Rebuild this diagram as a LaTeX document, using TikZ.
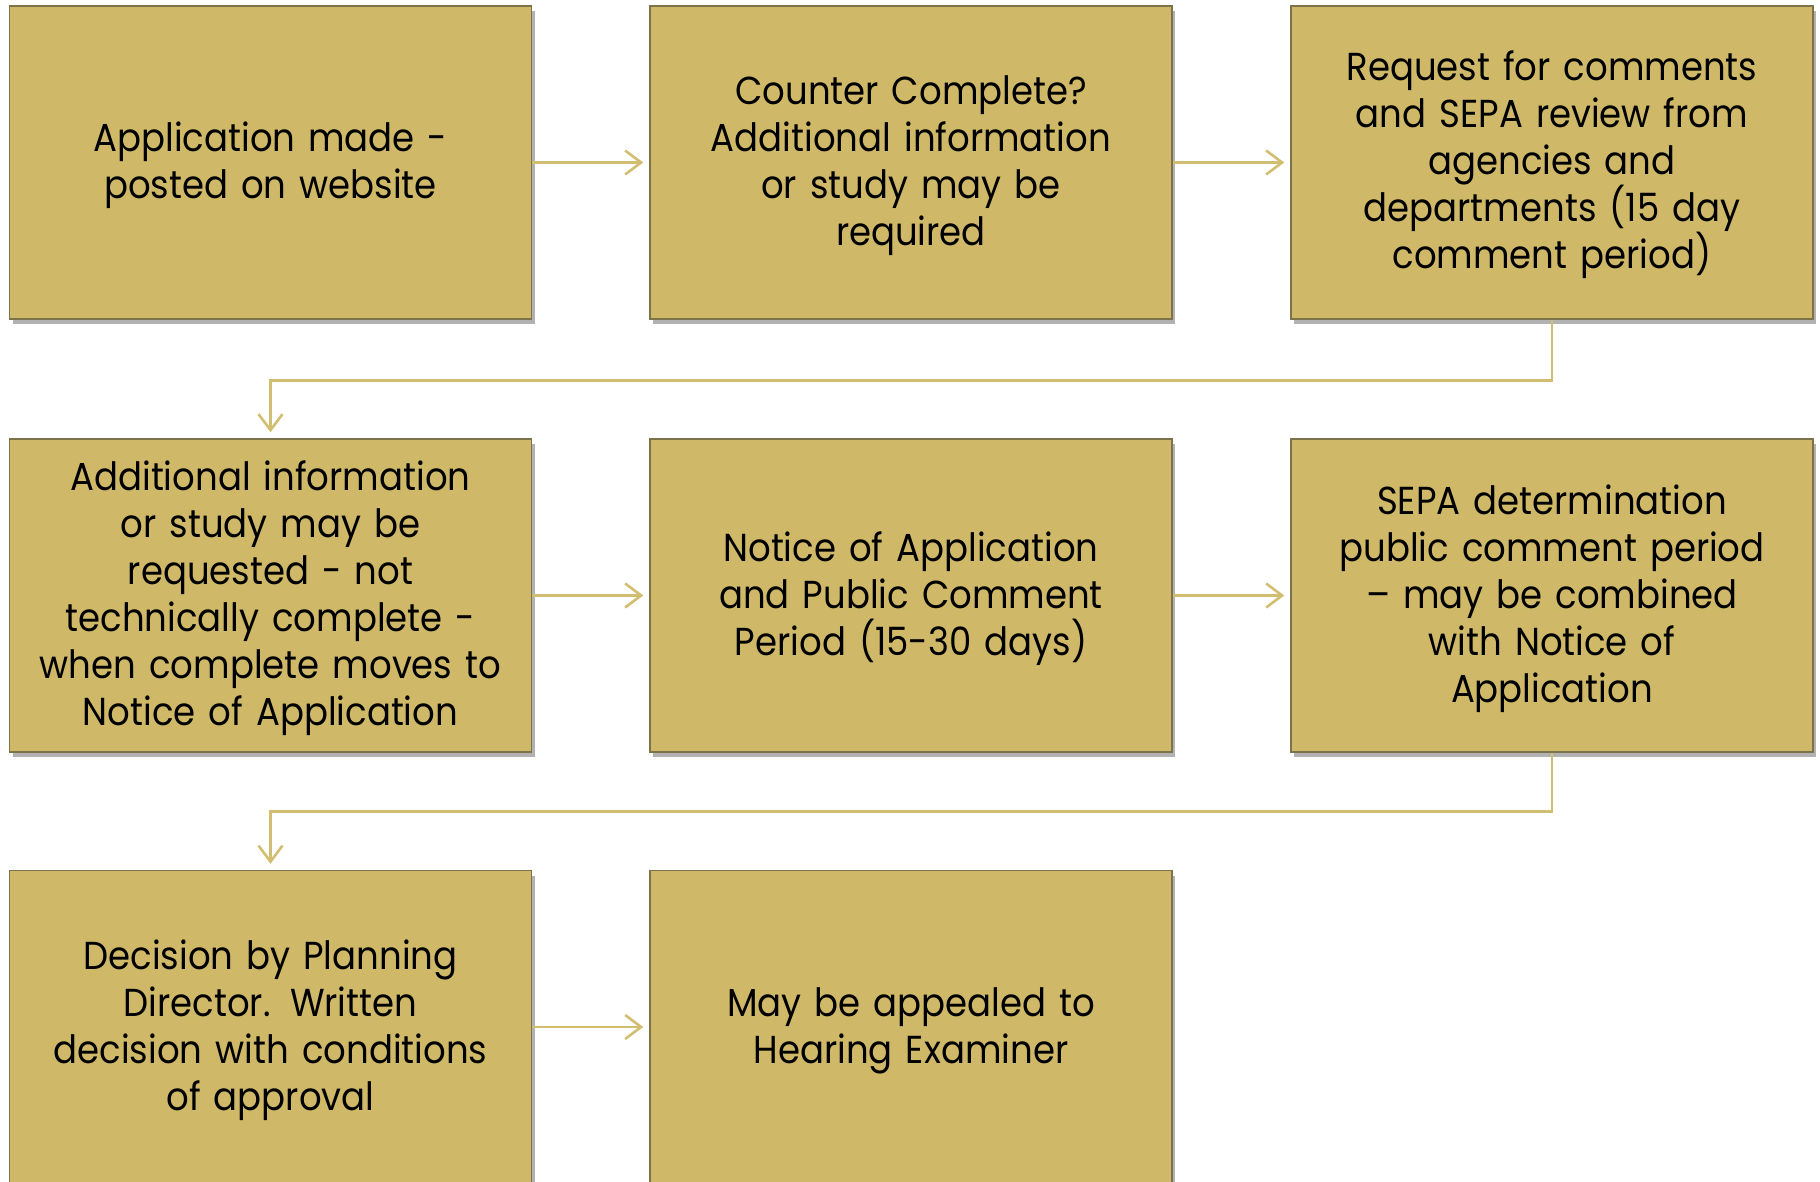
\documentclass[tikz,border=0pt]{standalone}
\usepackage{fontspec}
\setmainfont{Poppins}[FakeStretch=0.91]
\usetikzlibrary{arrows.meta,shadows,calc}
\definecolor{boxgold}{RGB}{207,185,104}
\definecolor{boxedge}{RGB}{125,115,75}
\definecolor{linegold}{RGB}{210,190,112}
\tikzset{
  stepbox/.style={draw=boxedge, line width=1.4pt, fill=boxgold,
    minimum width=522pt, minimum height=313pt, inner sep=0pt,
    text width=515pt, align=center, text=black,
    font=\fontsize{39}{47}\selectfont,
    execute at begin node={\rule{0pt}{36pt}},
    execute at end node={\rule[-11pt]{0pt}{11pt}},
    drop shadow={shadow xshift=3pt, shadow yshift=-5pt, fill=black, opacity=0.3}},
  conn/.style={draw=linegold, line width=2.8pt, shorten >=6pt,
    -{Straight Barb[length=16pt, width=24pt, line width=2.6pt]}}
}
\begin{document}
\begin{tikzpicture}[x=1pt,y=-1pt]
\useasboundingbox (0,0) rectangle (1820,1182);
\node[stepbox] (a) at (270.5,162.5) {Application made -\\posted on website};
\node[stepbox] (b) at (911,162.5) {Counter Complete?\\Additional information\\or study may be\\required};
\node[stepbox] (c) at (1552,162.5) {Request for comments\\and SEPA review from\\agencies and\\departments (15 day\\comment period)};
\node[stepbox] (d) at (270.5,595.5) {Additional information\\or study may be\\requested - not\\technically complete -\\when complete moves to\\Notice of Application};
\node[stepbox] (e) at (911,595.5) {Notice of Application\\and Public Comment\\Period (15-30 days)};
\node[stepbox] (f) at (1552,595.5) {SEPA determination\\public comment period\\– may be combined\\with Notice of\\Application};
\node[stepbox] (g) at (270.5,1027) {Decision by Planning\\Director. Written\\decision with conditions\\of approval};
\node[stepbox] (h) at (911,1027) {May be appealed to\\Hearing Examiner};
\draw[conn] (a.east) -- (b.west);
\draw[conn] (b.east) -- (c.west);
\draw[conn] (c.south) -- ++(0,60.5) -| (d.north);
\draw[conn] (d.east) -- (e.west);
\draw[conn] (e.east) -- (f.west);
\draw[conn] (f.south) -- ++(0,59) -| (g.north);
\draw[conn] (g.east) -- (h.west);
\end{tikzpicture}
\end{document}
